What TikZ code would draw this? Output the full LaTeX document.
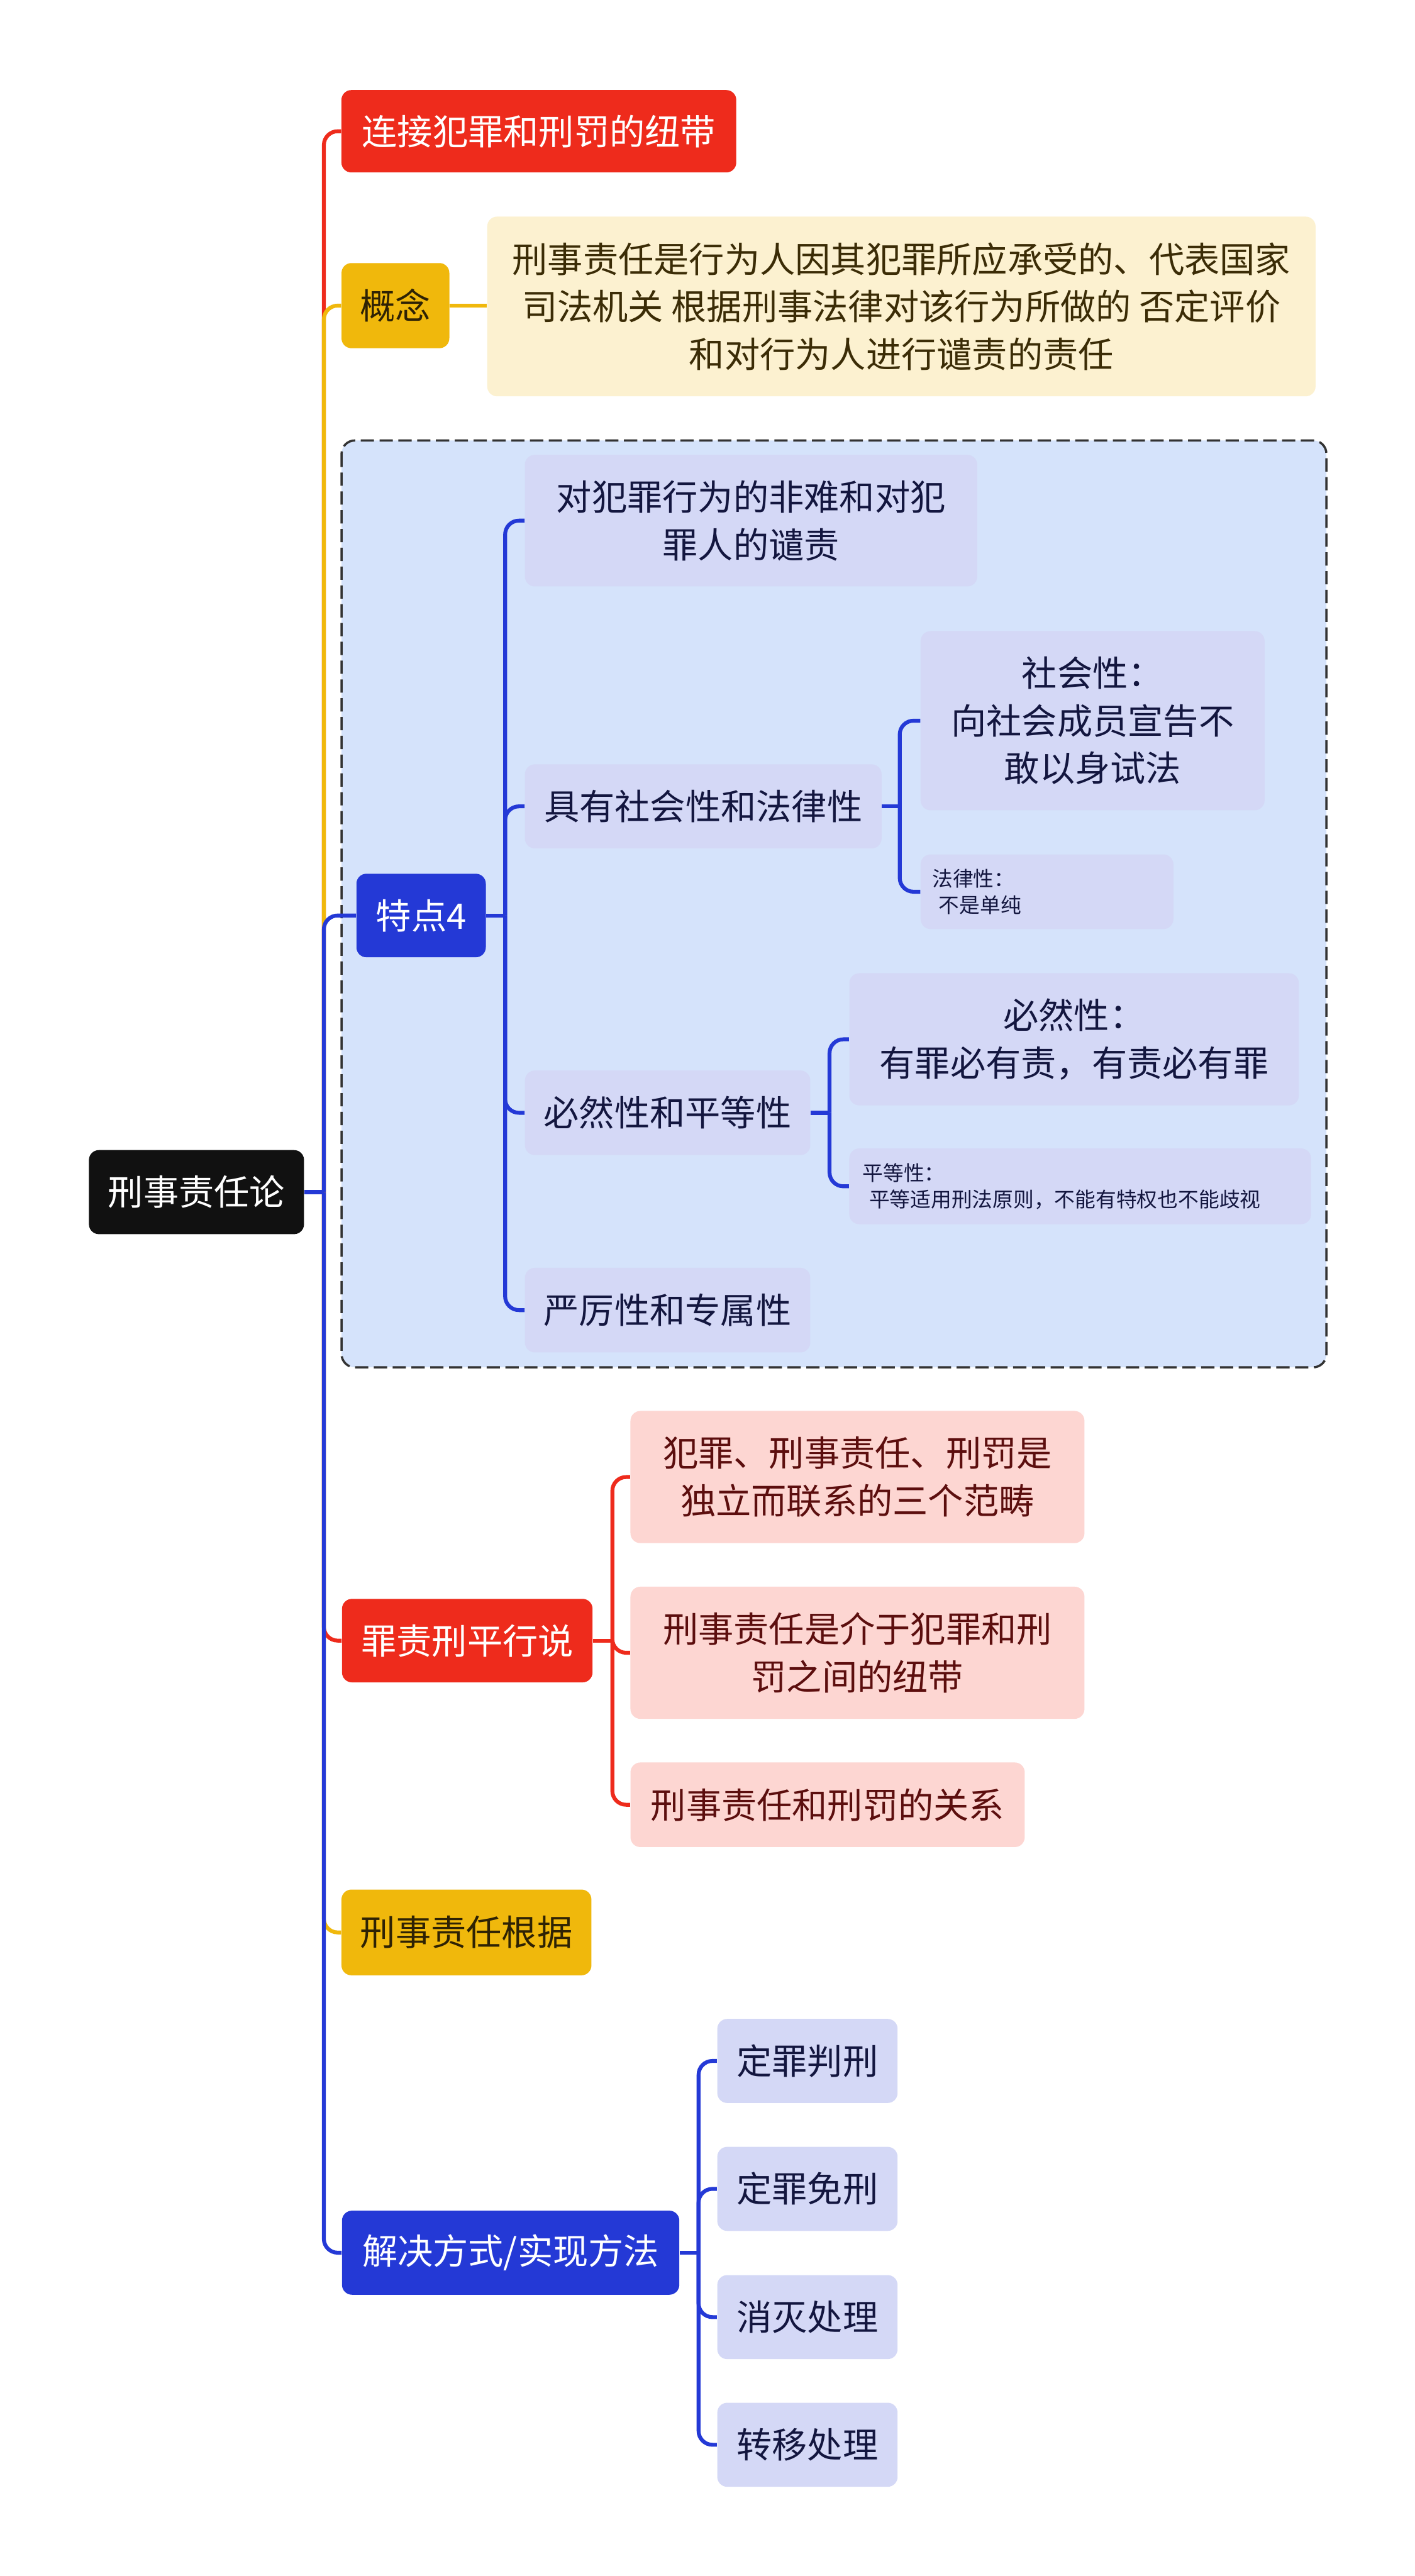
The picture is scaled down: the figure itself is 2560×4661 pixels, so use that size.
\documentclass[tikz,border=0pt]{standalone}
\usepackage{fontspec}
\setmainfont{Noto Sans CJK SC}
\definecolor{redc}{HTML}{EE2B1C}
\definecolor{goldc}{HTML}{F0B80C}
\definecolor{goldt}{HTML}{2E2204}
\definecolor{bluec}{HTML}{2439D6}
\definecolor{rootc}{HTML}{111111}
\definecolor{creamc}{HTML}{FCF1D0}
\definecolor{creamt}{HTML}{3B2C06}
\definecolor{boxbg}{HTML}{D5E3FB}
\definecolor{lavc}{HTML}{D4D8F6}
\definecolor{lavt}{HTML}{13163F}
\definecolor{pinkc}{HTML}{FDD6D2}
\definecolor{pinkt}{HTML}{5C0E0E}
\definecolor{dashc}{HTML}{333333}
\newcommand\bigf{\fontsize{18.2pt}{24.5pt}\selectfont}
\newcommand\smallf{\fontsize{10.6pt}{13.6pt}\selectfont}
\tikzset{
  box/.style={rounded corners=0.18cm, inner sep=0pt, align=center, font=\bigf},
  wh/.style 2 args={minimum width=#1cm, minimum height=#2cm},
  rootbox/.style={box, fill=rootc, text=white},
  redbox/.style={box, fill=redc, text=white},
  goldbox/.style={box, fill=goldc, text=goldt},
  bluebox/.style={box, fill=bluec, text=white},
  creambox/.style={box, fill=creamc, text=creamt},
  lavbox/.style={box, fill=lavc, text=lavt},
  pinkbox/.style={box, fill=pinkc, text=pinkt},
  smallbox/.style={rounded corners=0.18cm, inner ysep=0pt, align=left, font=\smallf, fill=lavc, text=lavt},
  link/.style={line width=0.07cm, rounded corners=0.25cm},
  groupbox/.style={fill=boxbg, draw=dashc, line width=0.04cm, dash pattern=on 0.24cm off 0.1cm, rounded corners=0.24cm},
}
\begin{document}
\begin{tikzpicture}[x=0.01cm,y=-0.01cm]
\useasboundingbox[fill=white] (0,0) rectangle (2560,4661);

% group box
\draw[groupbox] (618,797) rectangle (2400,2474);

% nodes
\node[rootbox, wh={3.89}{1.52}] (root) at (355.5,2157) {刑事责任论};
\node[redbox, wh={7.14}{1.49}] (n2) at (975,237.5) {连接犯罪和刑罚的纽带};
\node[goldbox, wh={1.95}{1.54}] (n3) at (715.5,553) {概念};
\node[creambox, wh={14.98}{3.25}] (n4) at (1631,554.5) {刑事责任是行为人因其犯罪所应承受的、代表国家\\司法机关 根据刑事法律对该行为所做的 否定评价\\和对行为人进行谴责的责任};

\node[bluebox, wh={2.34}{1.51}] (n6) at (762,1656.5) {特点4};
\node[lavbox, wh={8.18}{2.38}] (n7) at (1359,942) {对犯罪行为的非难和对犯\\罪人的谴责};
\node[lavbox, wh={6.45}{1.52}] (n8) at (1272.5,1459) {具有社会性和法律性};
\node[lavbox, wh={6.22}{3.24}] (n9) at (1977,1304) {社会性：\\向社会成员宣告不\\敢以身试法};
\node[smallbox, inner xsep=0.21cm, text width=4.15cm, minimum height=1.35cm] (n10) at (1894.5,1613.5) {法律性：\\\hspace*{0.12cm}不是单纯};
\node[lavbox, wh={5.16}{1.53}] (n11) at (1208,2013.5) {必然性和平等性};
\node[lavbox, wh={8.13}{2.39}] (n12) at (1943.5,1880.5) {必然性：\\有罪必有责，有责必有罪};
\node[smallbox, inner xsep=0.24cm, text width=7.87cm, minimum height=1.37cm] (n13) at (1954.5,2146.5) {平等性：\\\hspace*{0.12cm}平等适用刑法原则，不能有特权也不能歧视};
\node[lavbox, wh={5.16}{1.53}] (n14) at (1208,2370.5) {严厉性和专属性};

\node[redbox, wh={4.53}{1.51}] (n15) at (845.5,2968.5) {罪责刑平行说};
\node[pinkbox, wh={8.21}{2.39}] (n16) at (1551.5,2672.5) {犯罪、刑事责任、刑罚是\\独立而联系的三个范畴};
\node[pinkbox, wh={8.21}{2.39}] (n17) at (1551.5,2990.5) {刑事责任是介于犯罪和刑\\罚之间的纽带};
\node[pinkbox, wh={7.13}{1.53}] (n18) at (1497.5,3265.5) {刑事责任和刑罚的关系};

\node[goldbox, wh={4.52}{1.55}] (n19) at (844,3496.5) {刑事责任根据};

\node[bluebox, wh={6.10}{1.52}] (n20) at (924,4076) {解决方式/实现方法};
\node[lavbox, wh={3.26}{1.52}] (n21) at (1461,3729) {定罪判刑};
\node[lavbox, wh={3.26}{1.52}] (n22) at (1461,3960.5) {定罪免刑};
\node[lavbox, wh={3.26}{1.52}] (n23) at (1461,4192.5) {消灭处理};
\node[lavbox, wh={3.26}{1.52}] (n24) at (1461,4423.5) {转移处理};

% junctions
\coordinate (J) at (586,2157);
\coordinate (J6) at (914,1656.5);
\coordinate (J8) at (1628,1459);
\coordinate (J11) at (1501,2013.5);
\coordinate (J15) at (1108,2968.5);
\coordinate (J20) at (1264,4076);

% root branches
\draw[link, redc] (J) |- (n2.west);
\draw[link, goldc] (J) |- (n3.west);
\draw[link, bluec] (J) |- (n6.west);
\draw[link, redc] (J) |- (n15.west);
\draw[link, goldc] (J) |- (n19.west);
\draw[link, bluec] (J) |- (n20.west);
\draw[link, bluec] (root.east) -- (J);

\draw[link, goldc] (n3.east) -- (n3.east -| n4.west);

% 特点4 subtree
\draw[link, bluec] (n6.east) -- (J6);
\draw[link, bluec] (J6) |- (n7.west);
\draw[link, bluec] (J6) |- (n8.west);
\draw[link, bluec] (J6) |- (n11.west);
\draw[link, bluec] (J6) |- (n14.west);
\draw[link, bluec] (n8.east) -- (J8);
\draw[link, bluec] (J8) |- (n9.west);
\draw[link, bluec] (J8) |- (n10.west);
\draw[link, bluec] (n11.east) -- (J11);
\draw[link, bluec] (J11) |- (n12.west);
\draw[link, bluec] (J11) |- (n13.west);

% 罪责刑平行说 subtree
\draw[link, redc] (n15.east) -- (J15);
\draw[link, redc] (J15) |- (n16.west);
\draw[link, redc] (J15) |- (n17.west);
\draw[link, redc] (J15) |- (n18.west);

% 解决方式 subtree
\draw[link, bluec] (n20.east) -- (J20);
\draw[link, bluec] (J20) |- (n21.west);
\draw[link, bluec] (J20) |- (n22.west);
\draw[link, bluec] (J20) |- (n23.west);
\draw[link, bluec] (J20) |- (n24.west);
\end{tikzpicture}
\end{document}
